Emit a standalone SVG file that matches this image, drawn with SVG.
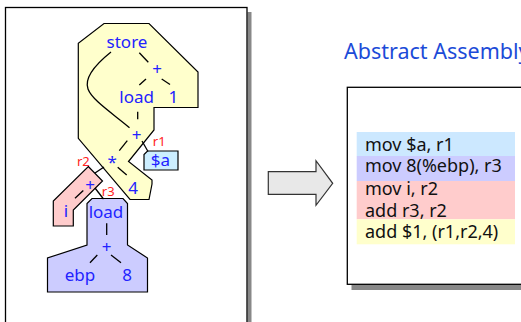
<svg xmlns="http://www.w3.org/2000/svg" width="521" height="322" viewBox="0 0 521 322">
<style>
.t{font-family:"Noto Sans","DejaVu Sans",sans-serif;font-size:17px;fill:#2222ff;text-anchor:middle}
.r{font-family:"Noto Sans","DejaVu Sans",sans-serif;font-size:13px;fill:#ff2222}
.c{font-family:"Noto Sans","DejaVu Sans",sans-serif;font-size:18px;fill:#111}
.e{stroke:#000;stroke-width:1.3;fill:none}
.reg{stroke:#000;stroke-width:1.2}
</style>
<rect width="521" height="322" fill="#fff"/>
<!-- left panel -->
<g id="left-panel">
<rect x="247.5" y="12" width="4" height="320" fill="#888"/>
<rect x="5.5" y="7.5" width="241.5" height="330" fill="#fff" stroke="#000" stroke-width="1.3"/>
</g>
<!-- regions -->
<g id="region-yellow"><polygon class="reg" fill="#ffffcc" points="104,23.5 149,23.5 198,72 198,107.5 154,107.5 154,130 128.5,161.5 152,180 152,184 149,199.5 130,199.5 78.3,138.3 78.3,43.3"/></g>
<g id="region-blue"><polygon class="reg" fill="#cceeff" points="147.5,151 178,151 178,170 144,170 144,154.5"/></g>
<g id="region-pink"><polygon class="reg" fill="#ffcccc" points="88.3,166.5 102.5,181 73.3,210 73.3,226 53.3,226 53.3,201"/></g>
<g id="region-lavender"><polygon class="reg" fill="#ccccff" points="92,198.5 123,198.5 127.5,203.5 127.5,245 147.5,258 147.5,292 47.5,292 47.5,258 87,245 87,203.5"/></g>
<!-- connectors -->
<g id="connectors">
<line class="e" x1="139.3" y1="52.7" x2="148.3" y2="62.3"/>
<line class="e" x1="146" y1="79" x2="139.3" y2="85"/>
<line class="e" x1="161.7" y1="79" x2="170" y2="84.5"/>
<line class="e" x1="137.7" y1="111.7" x2="137.7" y2="119.3"/>
<path class="e" d="M111,52 C96,64 84,78 88,89 C92,100 112,113 129.5,127.7"/>
<line class="e" x1="127.3" y1="140.7" x2="119.3" y2="150.7"/>
<line class="e" x1="142" y1="141" x2="148" y2="151.5"/>
<line class="e" x1="117.7" y1="167.3" x2="126.7" y2="175"/>
<line class="e" x1="104" y1="167" x2="95" y2="173"/>
<line class="e" x1="83.3" y1="190.5" x2="75" y2="198.3"/>
<line class="e" x1="95" y1="188" x2="103.5" y2="199"/>
<line class="e" x1="106.7" y1="223.3" x2="106.7" y2="235"/>
<line class="e" x1="97.3" y1="255" x2="90" y2="262.7"/>
<line class="e" x1="111" y1="255" x2="121" y2="262.7"/>
</g>
<!-- nodes -->
<g id="n-store"><text class="t" x="127" y="48">store</text></g>
<g id="n-plus1"><text class="t" x="157" y="75">+</text></g>
<g id="n-load1"><text class="t" x="136.7" y="103">load</text></g>
<g id="n-one"><text class="t" x="173.3" y="103">1</text></g>
<g id="n-plus2"><text class="t" x="136.7" y="140.5">+</text></g>
<g id="n-mul"><text class="t" x="112.3" y="167.5">*</text></g>
<g id="n-four"><text class="t" x="133" y="194">4</text></g>
<g id="n-a"><text class="t" x="160.5" y="166">$a</text></g>
<g id="n-plus3"><text class="t" x="90" y="191">+</text></g>
<g id="n-i"><text class="t" x="66" y="216.7">i</text></g>
<g id="n-load2"><text class="t" x="106" y="217.7">load</text></g>
<g id="n-plus4"><text class="t" x="106.7" y="253.3">+</text></g>
<g id="n-ebp"><text class="t" x="80" y="280.7">ebp</text></g>
<g id="n-eight"><text class="t" x="127.2" y="280.7">8</text></g>
<g id="labels">
<text class="r" x="152.8" y="145.5">r1</text>
<text class="r" x="77" y="165.5">r2</text>
<text class="r" x="101.8" y="195.7">r3</text>
</g>
<!-- arrow -->
<g id="arrow"><polygon points="268.3,171.7 316,171.7 316,160.7 332.7,183.3 316,205.3 316,194.3 268.3,194.3" fill="#e8e8e8" stroke="#333" stroke-width="1.2"/></g>
<!-- title -->
<g id="title"><text x="344" y="59.3" font-family="Noto Sans, DejaVu Sans, sans-serif" font-size="21.5" fill="#1c4bd8">Abstract Assembly</text></g>
<!-- code box -->
<g id="code-box">
<rect x="351.5" y="284.5" width="180" height="5.5" fill="#888"/>
<rect x="347.3" y="87.3" width="190" height="197" fill="#fff" stroke="#000" stroke-width="1.3"/>
<rect x="356.7" y="132" width="158.3" height="24" fill="#cce8ff"/>
<rect x="356.7" y="156" width="158.3" height="25" fill="#ccccff"/>
<rect x="356.7" y="181" width="158.3" height="38.3" fill="#ffcccc"/>
<rect x="356.7" y="219.3" width="158.3" height="25" fill="#ffffcc"/>
<text class="c" x="365" y="151">mov $a, r1</text>
<text class="c" x="365" y="171.7">mov 8(%ebp), r3</text>
<text class="c" x="365" y="195">mov i, r2</text>
<text class="c" x="365" y="216.7">add r3, r2</text>
<text class="c" x="365" y="238.3">add $1, (r1,r2,4)</text>
</g>
</svg>
